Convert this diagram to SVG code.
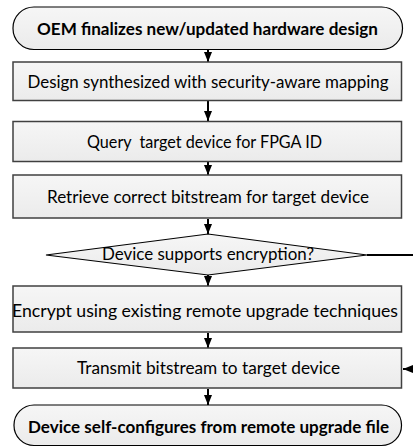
<svg xmlns="http://www.w3.org/2000/svg" width="413" height="447" viewBox="0 0 413 447">
<defs>
<linearGradient id="g" x1="0" y1="0" x2="0" y2="1">
<stop offset="0" stop-color="#f6f6f6"/>
<stop offset="1" stop-color="#ebebeb"/>
</linearGradient>
<marker id="ah" markerWidth="10" markerHeight="8" refX="10" refY="4" orient="auto" markerUnits="userSpaceOnUse">
<path d="M0,0 L10,4 L0,8 Z" fill="#000"/>
</marker>
</defs>
<style>
.term{fill:url(#g);stroke:#000;stroke-width:1.2}
.box{fill:url(#g);stroke:#404040;stroke-width:1.5}
.dia{fill:url(#g);stroke:#000;stroke-width:1.2}
text{font-family:Lato,"Liberation Sans",sans-serif;font-size:17px;fill:#000;text-anchor:middle;white-space:pre}
.b{font-weight:bold}
.conn{fill:none;stroke:#000;stroke-width:2;marker-end:url(#ah)}
</style>
<g id="connectors">
<line class="conn" x1="208" y1="50" x2="208" y2="62"/>
<line class="conn" x1="208" y1="101" x2="208" y2="121"/>
<line class="conn" x1="208" y1="162" x2="208" y2="175"/>
<line class="conn" x1="208" y1="219" x2="208" y2="234"/>
<line class="conn" x1="208" y1="275" x2="208" y2="286"/>
<line class="conn" x1="208" y1="333" x2="208" y2="348"/>
<line class="conn" x1="208" y1="389" x2="208" y2="405"/>
<path class="conn" d="M367,255 L425,255 L425,369 L403,369"/>
</g>
<g id="start">
<rect class="term" x="13" y="7" width="389.5" height="42.5" rx="21" ry="21"/>
<text class="b" x="207.5" y="34.5" textLength="341" lengthAdjust="spacingAndGlyphs">OEM finalizes new/updated hardware design</text>
</g>
<g id="synth">
<rect class="box" x="13" y="62" width="388.5" height="38.5"/>
<text x="208" y="87.5" textLength="361" lengthAdjust="spacingAndGlyphs">Design synthesized with security-aware mapping</text>
</g>
<g id="query">
<rect class="box" x="13" y="121.5" width="388.5" height="40"/>
<text x="204.5" y="147.5" textLength="235" lengthAdjust="spacingAndGlyphs" xml:space="preserve">Query  target device for FPGA ID</text>
</g>
<g id="retrieve">
<rect class="box" x="13" y="175" width="388.5" height="43"/>
<text x="208" y="202.5" textLength="322" lengthAdjust="spacingAndGlyphs">Retrieve correct bitstream for target device</text>
</g>
<g id="decision">
<polygon class="dia" points="46,255 208,234 367,255 208,275"/>
<text x="208" y="259.5" textLength="212" lengthAdjust="spacingAndGlyphs">Device supports encryption?</text>
</g>
<g id="encrypt">
<rect class="box" x="13" y="286" width="388.5" height="46"/>
<text x="205" y="316.5" textLength="386" lengthAdjust="spacingAndGlyphs">Encrypt using existing remote upgrade techniques</text>
</g>
<g id="transmit">
<rect class="box" x="13" y="348" width="388.5" height="40"/>
<text x="208.5" y="373.5" textLength="263" lengthAdjust="spacingAndGlyphs">Transmit bitstream to target device</text>
</g>
<g id="end">
<rect class="term" x="14" y="405" width="387.5" height="40.5" rx="20" ry="20"/>
<text class="b" x="208.5" y="432.5" textLength="361" lengthAdjust="spacingAndGlyphs">Device self-configures from remote upgrade file</text>
</g>
</svg>
